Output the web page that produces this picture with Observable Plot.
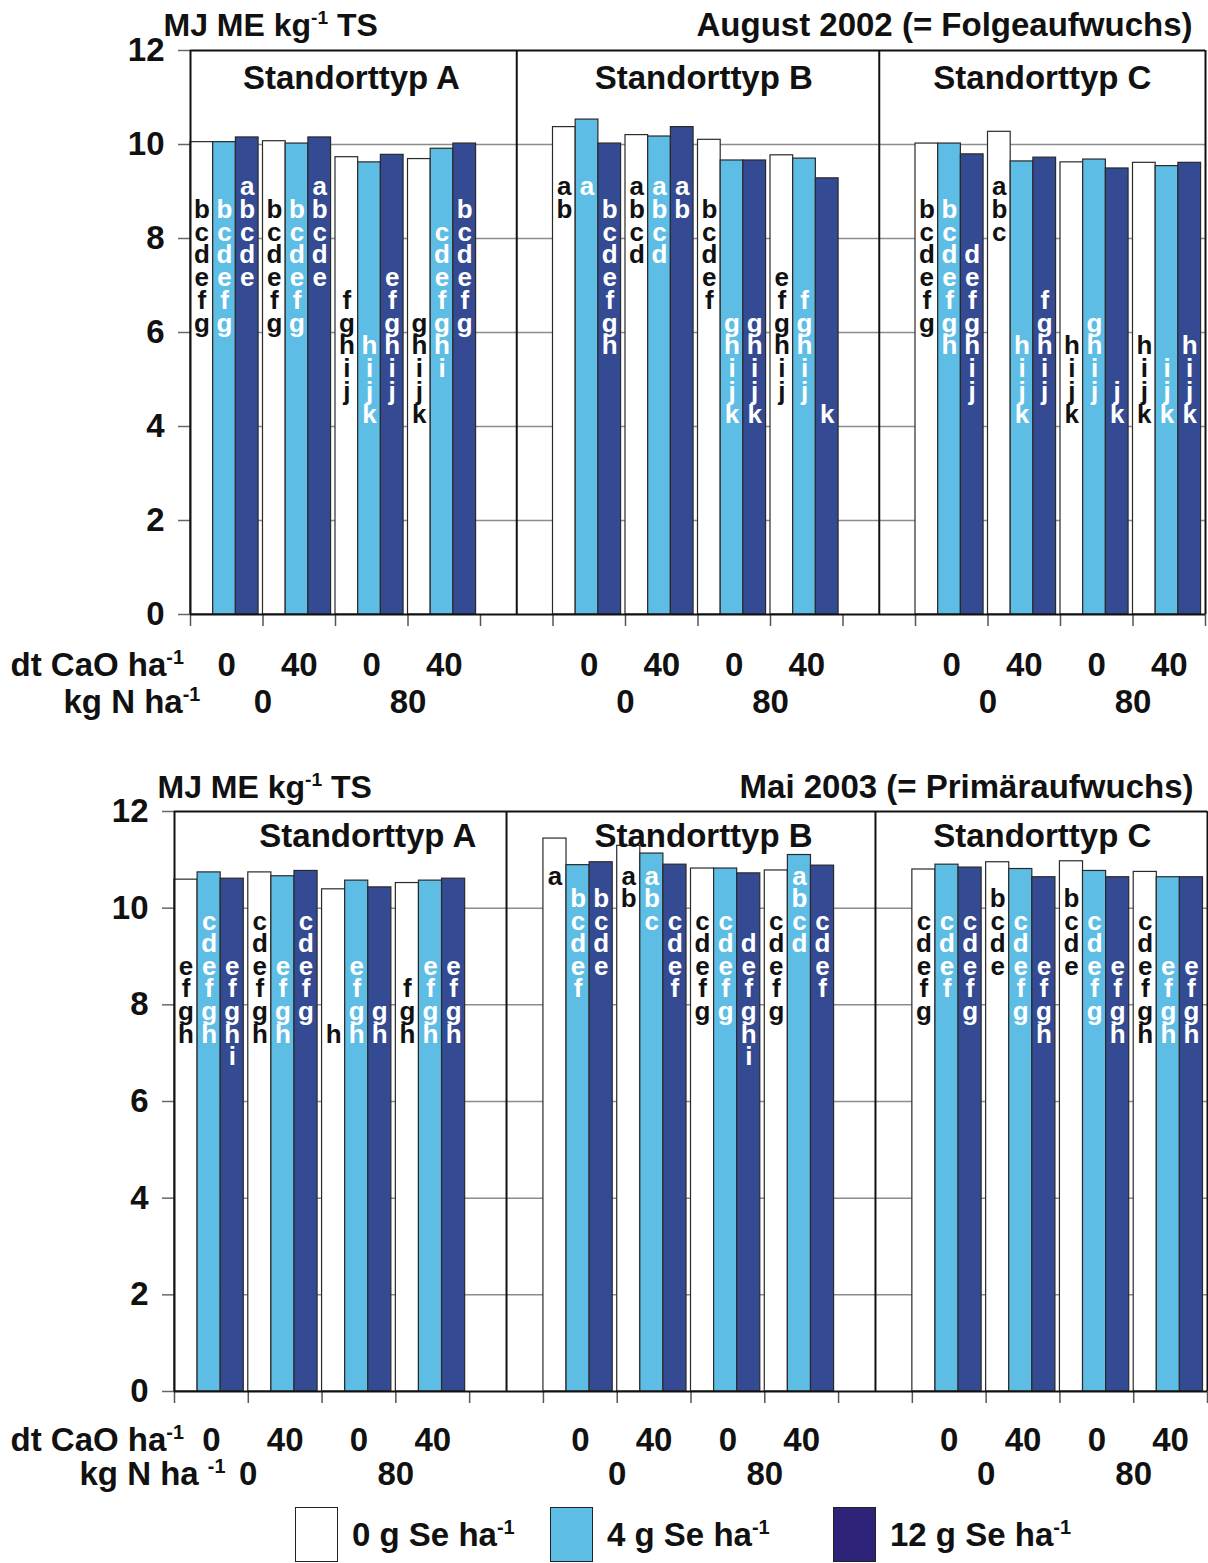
<!DOCTYPE html>
<html>
<head>
<meta charset="utf-8">
<script src="https://cdn.jsdelivr.net/npm/d3@7"></script>
<script src="https://cdn.jsdelivr.net/npm/@observablehq/plot@0.6"></script>
<style>
  body { margin: 0; background: #fff; font-family: Arial, "Liberation Sans", sans-serif; font-weight: bold; }
  #legend { position: relative; width: 1208px; height: 73px; }
  .lg-box { position: absolute; top: 17px; width: 41px; height: 53px; border: 1.5px solid #222; }
  .lg-txt { position: absolute; top: 45px; transform: translateY(-50%); font-size: 33px; white-space: nowrap; color: #111; }
  .lg-txt sup { font-size: 20px; vertical-align: 0; position: relative; top: -12px; }
</style>
</head>
<body>
<div id="top"></div>
<div id="bottom"></div>
<div id="legend"></div>
<script>
// ---------- data ----------
const sites = ["A", "B", "C"];
const caoLevels = [0, 40, 0, 40];
const nLevels = [0, 80];
const seSeries = ["0 g Se ha⁻¹", "4 g Se ha⁻¹", "12 g Se ha⁻¹"];
const seColors = ["#ffffff", "#5ebde4", "#344a92"];
const legendColors = ["#ffffff", "#5ebde4", "#2d2479"];
const yTicks = [0, 2, 4, 6, 8, 10, 12];
const gridValues = [2, 4, 6, 8, 10];

// August 2002 (Folgeaufwuchs): order A(0/0,40/0,0/80,40/80), B(...), C(...)
const aug2002_se0  = [10.05, 10.07, 9.73, 9.69, 10.37, 10.20, 10.10, 9.77, 10.02, 10.27, 9.62, 9.61];
const aug2002_se4  = [10.05, 10.02, 9.62, 9.91, 10.53, 10.17, 9.66, 9.70, 10.02, 9.64, 9.68, 9.54];
const aug2002_se12 = [10.15, 10.15, 9.78, 10.02, 10.02, 10.37, 9.66, 9.28, 9.79, 9.72, 9.49, 9.61];
const aug2002_let0  = ["bcdefg", "bcdefg", "fghij", "ghijk", "ab", "abcd", "bcdef", "efghij", "bcdefg", "abc", "hijk", "hijk"];
const aug2002_let4  = ["bcdefg", "bcdefg", "hijk", "cdefghi", "a", "abcd", "ghijk", "fghij", "bcdefgh", "hijk", "ghij", "ijk"];
const aug2002_let12 = ["abcde", "abcde", "efghij", "bcdefg", "bcdefgh", "ab", "ghijk", "k", "defghij", "fghij", "jk", "hijk"];

// Mai 2003 (Primäraufwuchs)
const mai2003_se0  = [10.59, 10.74, 10.39, 10.52, 11.44, 11.29, 10.82, 10.78, 10.80, 10.95, 10.97, 10.75];
const mai2003_se4  = [10.74, 10.66, 10.57, 10.57, 10.89, 11.13, 10.82, 11.10, 10.90, 10.81, 10.77, 10.64];
const mai2003_se12 = [10.61, 10.77, 10.43, 10.61, 10.95, 10.90, 10.72, 10.88, 10.84, 10.64, 10.64, 10.64];
const mai2003_let0  = ["efgh", "cdefgh", "h", "fgh", "a", "ab", "cdefg", "cdefg", "cdefg", "bcde", "bcde", "cdefgh"];
const mai2003_let4  = ["cdefgh", "efgh", "efgh", "efgh", "bcdef", "abc", "cdefg", "abcd", "cdef", "cdefg", "cdefg", "efgh"];
const mai2003_let12 = ["efghi", "cdefg", "gh", "efgh", "bcde", "cdef", "defghi", "cdef", "cdefg", "efgh", "efgh", "efgh"];

// ---------- layout ----------
const FONT = 'Arial, "Liberation Sans", sans-serif';
const BW = 0.313;           // bar width as fraction of a slot
const SLOTS = 14;           // 3 sites x 4 groups + 2 spacer slots

function buildBars(vals, lets) {
  const bars = [];
  vals.forEach((arr, i) => arr.forEach((v, k) => {
    const s = Math.floor(k / 4), g = k % 4, slot = s * 5 + g;
    bars.push({series: seSeries[i], si: i, site: sites[s], g, slot,
               x1: slot + i * BW, x2: slot + (i + 1) * BW, value: v, letters: lets[i][k]});
  }));
  return bars;
}

function supify(svg) {
  svg.querySelectorAll("text").forEach(t => {
    if (t.querySelector("tspan")) {
      t.querySelectorAll("tspan").forEach(ts => fix(ts));
    } else fix(t);
  });
  function fix(el) {
    const s = el.textContent;
    const i = s.indexOf("⁻¹");
    if (i < 0) return;
    const before = s.slice(0, i), after = s.slice(i + 2);
    el.textContent = before;
    const ns = "http://www.w3.org/2000/svg";
    const sup = document.createElementNS(ns, "tspan");
    sup.setAttribute("font-size", "0.6em");
    sup.setAttribute("dy", "-0.6em");
    sup.textContent = "-1";
    el.appendChild(sup);
    if (after) {
      const rest = document.createElementNS(ns, "tspan");
      rest.setAttribute("dy", "0.36em");
      rest.textContent = after;
      el.appendChild(rest);
    }
  }
}

function panel(cfg) {
  const bars = buildBars(cfg.values, cfg.letters);
  const letterRows = [];
  bars.forEach(b => {
    for (const c of b.letters) {
      letterRows.push({x: (b.x1 + b.x2) / 2, y: cfg.letterA - (c.charCodeAt(0) - 97) * cfg.letterStep, c, si: b.si});
    }
  });
  const caoLabels = [];
  sites.forEach((s, si) => caoLevels.forEach((c, g) => caoLabels.push({x: si * 5 + g + 0.5, t: String(c)})));
  const nLabels = [];
  sites.forEach((s, si) => nLevels.forEach((n, ni) => nLabels.push({x: si * 5 + ni * 2 + 1, t: String(n)})));
  const siteLabels = sites.map((s, i) => ({x: cfg.siteLabelX[i], t: "Standorttyp " + s}));
  const T = {fontWeight: "bold", fill: "#111", lineAnchor: "middle"};

  const svg = Plot.plot({
    width: 1208, height: cfg.height,
    marginTop: cfg.marginTop, marginBottom: cfg.marginBottom,
    marginLeft: cfg.marginLeft, marginRight: cfg.marginRight,
    style: {fontFamily: FONT, fontWeight: "bold", fontSize: "33px", color: "#111", background: "white", overflow: "visible"},
    x: {type: "linear", domain: [0, SLOTS]},
    y: {domain: [0, 12]},
    color: {domain: seSeries, range: seColors},
    marks: [
      Plot.ruleY(gridValues, {stroke: "#8c8c8c", strokeWidth: 1.5}),
      Plot.axisY({ticks: yTicks, tickSize: 12, tickPadding: 14, tickFormat: d => String(d), label: null,
                  stroke: "#666", strokeWidth: 1.5, fontSize: 33, fontWeight: "bold"}),
      Plot.axisX({ticks: d3.range(SLOTS + 1), tickSize: 12, tickFormat: () => "", label: null, stroke: "#555", strokeWidth: 1.5}),
      Plot.rectY(bars, {x1: "x1", x2: "x2", y: "value", fill: "series", stroke: "#2a2a2a", strokeWidth: 1.2}),
      Plot.ruleY([0, 12], {stroke: "#111", strokeWidth: 2}),
      Plot.ruleX([0, 4.5, 9.5, SLOTS], {y1: 0, y2: 12, stroke: "#111", strokeWidth: 2}),
      Plot.text(letterRows.filter(d => d.si === 0), {x: "x", y: "y", text: "c", ...T, fill: "#111", fontSize: 26}),
      Plot.text(letterRows.filter(d => d.si !== 0), {x: "x", y: "y", text: "c", ...T, fill: "#fff", fontSize: 26}),
      Plot.text(siteLabels, {x: "x", y: () => cfg.siteLabelY, text: "t", ...T, fontSize: 33}),
      Plot.text(caoLabels, {x: "x", text: "t", frameAnchor: "bottom", dy: cfg.caoDy, ...T, fontSize: 33}),
      Plot.text(nLabels, {x: "x", text: "t", frameAnchor: "bottom", dy: cfg.nDy, ...T, fontSize: 33}),
      Plot.text(["dt CaO ha⁻¹"], {frameAnchor: "bottom-left", textAnchor: "start", dx: cfg.caoTitleDx, dy: cfg.caoDy, ...T, fontSize: 33}),
      Plot.text([cfg.nTitle], {frameAnchor: "bottom-left", textAnchor: "start", dx: cfg.nTitleDx, dy: cfg.nDy, ...T, fontSize: 33}),
      Plot.text(["MJ ME kg⁻¹ TS"], {frameAnchor: "top-left", textAnchor: "start", dx: cfg.unitDx, dy: cfg.titleDy, ...T, fontSize: 32}),
      Plot.text([cfg.title], {frameAnchor: "top-right", textAnchor: "end", dx: cfg.titleDx, dy: cfg.titleDy, ...T, fontSize: 33})
    ]
  });
  supify(svg);
  return svg;
}

document.getElementById("top").appendChild(panel({
  values: [aug2002_se0, aug2002_se4, aug2002_se12],
  letters: [aug2002_let0, aug2002_let4, aug2002_let12],
  title: "August 2002 (= Folgeaufwuchs)",
  nTitle: "kg N ha⁻¹",
  height: 740, marginTop: 50, marginBottom: 126, marginLeft: 190, marginRight: 3,
  letterA: 9.10, letterStep: 0.484,
  siteLabelX: [2.22, 7.08, 11.75], siteLabelY: 11.41,
  caoDy: 51, nDy: 88, caoTitleDx: -180, nTitleDx: -127,
  unitDx: -27, titleDx: -13, titleDy: -25
}));

document.getElementById("bottom").appendChild(panel({
  values: [mai2003_se0, mai2003_se4, mai2003_se12],
  letters: [mai2003_let0, mai2003_let4, mai2003_let12],
  title: "Mai 2003 (= Primäraufwuchs)",
  nTitle: "kg N ha ⁻¹",
  height: 750, marginTop: 71, marginBottom: 99, marginLeft: 174, marginRight: 1,
  letterA: 10.66, letterStep: 0.467,
  siteLabelX: [2.62, 7.17, 11.76], siteLabelY: 11.49,
  caoDy: 49, nDy: 83, caoTitleDx: -164, nTitleDx: -95,
  unitDx: -17, titleDx: -14, titleDy: -24
}));

// legend
const legendX = [295, 550, 833];
const lg = document.getElementById("legend");
seSeries.forEach((s, i) => {
  const box = document.createElement("div");
  box.className = "lg-box";
  box.style.left = legendX[i] + "px";
  box.style.background = legendColors[i];
  lg.appendChild(box);
  const txt = document.createElement("div");
  txt.className = "lg-txt";
  txt.style.left = (legendX[i] + 57) + "px";
  txt.innerHTML = s.replace("⁻¹", "<sup>-1</sup>");
  lg.appendChild(txt);
});
</script>
</body>
</html>
